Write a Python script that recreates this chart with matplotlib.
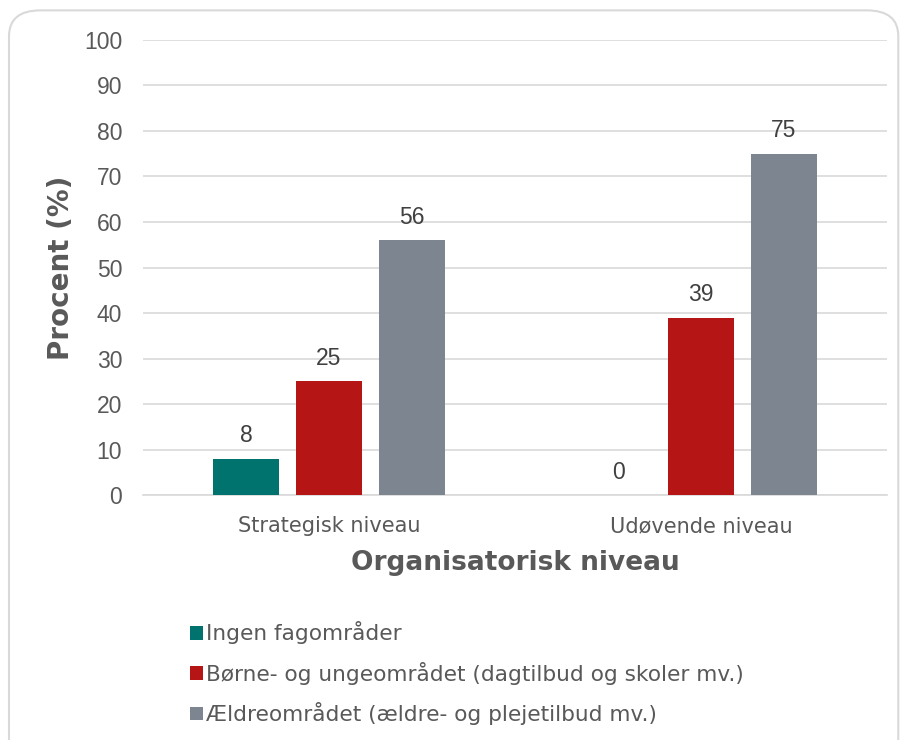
import numpy as np
import matplotlib.pyplot as plt
from matplotlib.patches import FancyBboxPatch

plt.rcParams['font.family'] = ['DejaVu Sans']

niveauer = ['Strategisk niveau', 'Udøvende niveau']
serier = ['Ingen fagområder',
          'Børne- og ungeområdet (dagtilbud og skoler mv.)',
          'Ældreområdet (ældre- og plejetilbud mv.)']
ingen = [8, 0]
boerne = [25, 39]
aeldre = [56, 75]
farver = ['#00736F', '#B51515', '#7C8590']

fig = plt.figure(figsize=(9.01, 7.4), dpi=100)
# afrundet ramme om hele figuren
ramme = FancyBboxPatch((0.010, -0.05), 0.987, 1.036, boxstyle='round,pad=0,rounding_size=0.035',
                       transform=fig.transFigure, facecolor='white', edgecolor='#D9D9D9',
                       linewidth=1.5, clip_on=False, zorder=-5)
fig.patches.append(ramme)

ax = fig.add_axes([0.1587, 0.331, 0.8258, 0.615])
ax.set_facecolor('none')

x = np.arange(len(niveauer))
w = 0.175
step = 0.223
for i, (vals, navn) in enumerate(zip([ingen, boerne, aeldre], serier)):
    pos = x + (i - 1) * step
    ax.bar(pos, vals, width=w, color=farver[i], label=navn, zorder=3)
    for p, v in zip(pos, vals):
        ax.text(p, v + 5.0, str(v), ha='center', va='center', fontsize=16.5,
                family='Liberation Sans', color='#404040')

ax.set_xlim(-0.5, 1.5)
ax.set_ylim(0, 100)
ax.set_yticks(np.arange(0, 101, 10))
ax.set_yticklabels([str(t) for t in range(0, 101, 10)], family='Liberation Sans',
                   fontsize=16.5, color='#595959')
ax.set_xticks(x)
ax.set_xticklabels(niveauer, fontsize=15, color='#595959')
ax.tick_params(axis='both', length=0)
ax.tick_params(axis='y', pad=15)
ax.tick_params(axis='x', pad=15)
ax.grid(axis='y', color='#D9D9D9', linewidth=1.2, zorder=0)
for s in ['top', 'right', 'left']:
    ax.spines[s].set_visible(False)
ax.spines['bottom'].set_color('#D9D9D9')
ax.spines['bottom'].set_linewidth(1.2)

ax.set_ylabel('Procent (%)', fontsize=20, fontweight='bold', color='#595959')
ax.yaxis.set_label_coords(-0.092, 0.5)
ax.set_xlabel('Organisatorisk niveau', fontsize=19, fontweight='bold', color='#595959', labelpad=10)

leg = fig.legend(loc='upper left', bbox_to_anchor=(0.201, 0.172), frameon=False,
                 fontsize=15.6, handlelength=0.6, handleheight=0.6, handletextpad=0.15,
                 labelspacing=0.8, labelcolor='#595959', borderaxespad=0)

fig.savefig('out.png', dpi=100)
